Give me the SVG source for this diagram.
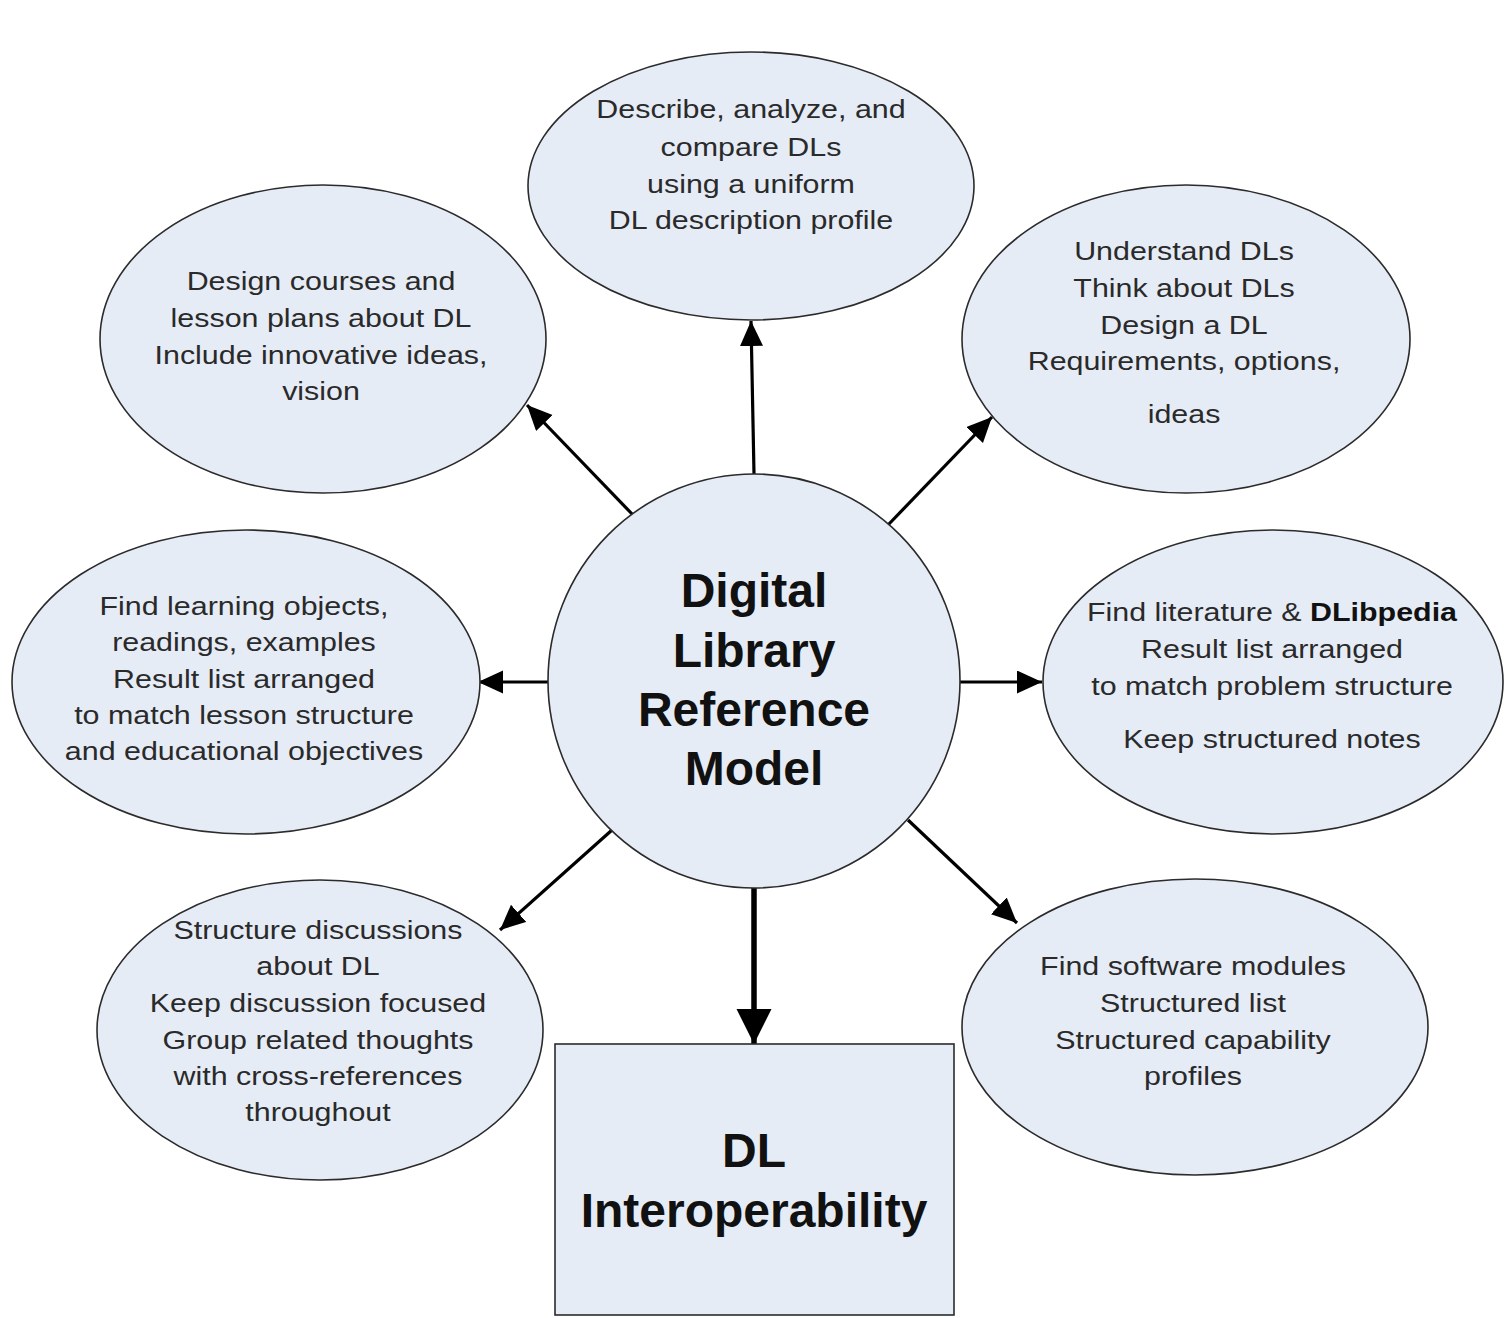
<svg xmlns="http://www.w3.org/2000/svg" width="1506" height="1318" viewBox="0 0 1506 1318">
<defs>
<style>
.n{fill:#e6ecf6;stroke:#2b2b2b;stroke-width:1.6}
.t{font-family:"Liberation Sans",Arial,sans-serif;font-size:26px;fill:#2a2a2a;text-anchor:middle}
.b{font-family:"Liberation Sans",Arial,sans-serif;font-size:48px;font-weight:bold;fill:#111;text-anchor:middle}
.c{stroke:#000;stroke-width:3.2;fill:none;marker-end:url(#ah)}
.cb{stroke:#000;stroke-width:5.5;fill:none;marker-end:url(#ahb)}
</style>
<marker id="ah" markerUnits="userSpaceOnUse" markerWidth="26" markerHeight="24" refX="25" refY="11.5" orient="auto" viewBox="0 0 26 24">
<path d="M0,0 L25,11.5 L0,23 z" fill="#000"/>
</marker>
<marker id="ahb" markerUnits="userSpaceOnUse" markerWidth="36" markerHeight="36" refX="35" refY="17.5" orient="auto" viewBox="0 0 36 36">
<path d="M0,0 L35,17.5 L0,35 z" fill="#000"/>
</marker>
</defs>
<rect width="1506" height="1318" fill="#fff"/>
<g id="connectors">
<line class="c" x1="754" y1="474" x2="751" y2="321"/>
<line class="c" x1="633" y1="515" x2="527" y2="405"/>
<line class="c" x1="888" y1="525" x2="992" y2="417"/>
<line class="c" x1="548" y1="682" x2="478" y2="682"/>
<line class="c" x1="960" y1="682" x2="1042" y2="682"/>
<line class="c" x1="612" y1="830" x2="500" y2="930"/>
<line class="c" x1="908" y1="820" x2="1017" y2="923"/>
<line class="cb" x1="754" y1="887" x2="754" y2="1044"/>
</g>
<g id="node-top">
<ellipse class="n" cx="751" cy="186" rx="223" ry="134"/>
<g transform="translate(751 0) scale(1.17 1)">
<text class="t" x="0" y="118">Describe, analyze, and</text>
<text class="t" x="0" y="156">compare DLs</text>
<text class="t" x="0" y="193">using a uniform</text>
<text class="t" x="0" y="229">DL description profile</text>
</g>
</g>
<g id="node-top-left">
<ellipse class="n" cx="323" cy="339" rx="223" ry="154"/>
<g transform="translate(321 0) scale(1.17 1)">
<text class="t" x="0" y="290">Design courses and</text>
<text class="t" x="0" y="327">lesson plans about DL</text>
<text class="t" x="0" y="364">Include innovative ideas,</text>
<text class="t" x="0" y="400">vision</text>
</g>
</g>
<g id="node-top-right">
<ellipse class="n" cx="1186" cy="339" rx="224" ry="154"/>
<g transform="translate(1184 0) scale(1.17 1)">
<text class="t" x="0" y="260">Understand DLs</text>
<text class="t" x="0" y="297">Think about DLs</text>
<text class="t" x="0" y="334">Design a DL</text>
<text class="t" x="0" y="370">Requirements, options,</text>
<text class="t" x="0" y="423">ideas</text>
</g>
</g>
<g id="node-left">
<ellipse class="n" cx="246" cy="682" rx="234" ry="152"/>
<g transform="translate(244 0) scale(1.17 1)">
<text class="t" x="0" y="615">Find learning objects,</text>
<text class="t" x="0" y="651">readings, examples</text>
<text class="t" x="0" y="688">Result list arranged</text>
<text class="t" x="0" y="724">to match lesson structure</text>
<text class="t" x="0" y="760">and educational objectives</text>
</g>
</g>
<g id="node-right">
<ellipse class="n" cx="1273" cy="682" rx="230" ry="152"/>
<g transform="translate(1272 0) scale(1.17 1)">
<text class="t" x="0" y="621">Find literature &amp; <tspan font-weight="bold" fill="#111">DLibpedia</tspan></text>
<text class="t" x="0" y="658">Result list arranged</text>
<text class="t" x="0" y="695">to match problem structure</text>
<text class="t" x="0" y="748">Keep structured notes</text>
</g>
</g>
<g id="node-bottom-left">
<ellipse class="n" cx="320" cy="1030" rx="223" ry="150"/>
<g transform="translate(318 0) scale(1.17 1)">
<text class="t" x="0" y="939">Structure discussions</text>
<text class="t" x="0" y="975">about DL</text>
<text class="t" x="0" y="1012">Keep discussion focused</text>
<text class="t" x="0" y="1049">Group related thoughts</text>
<text class="t" x="0" y="1085">with cross-references</text>
<text class="t" x="0" y="1121">throughout</text>
</g>
</g>
<g id="node-bottom-right">
<ellipse class="n" cx="1195" cy="1027" rx="233" ry="148"/>
<g transform="translate(1193 0) scale(1.17 1)">
<text class="t" x="0" y="975">Find software modules</text>
<text class="t" x="0" y="1012">Structured list</text>
<text class="t" x="0" y="1049">Structured capability</text>
<text class="t" x="0" y="1085">profiles</text>
</g>
</g>
<g id="node-center">
<ellipse class="n" cx="754" cy="681" rx="206" ry="207"/>
<text class="b" x="754" y="607">Digital</text>
<text class="b" x="754" y="667">Library</text>
<text class="b" x="754" y="726">Reference</text>
<text class="b" x="754" y="785">Model</text>
</g>
<g id="node-interoperability">
<rect class="n" x="555" y="1044" width="399" height="271" stroke-width="2.2"/>
<text class="b" x="754" y="1167">DL</text>
<text class="b" x="754" y="1227">Interoperability</text>
</g>
</svg>
